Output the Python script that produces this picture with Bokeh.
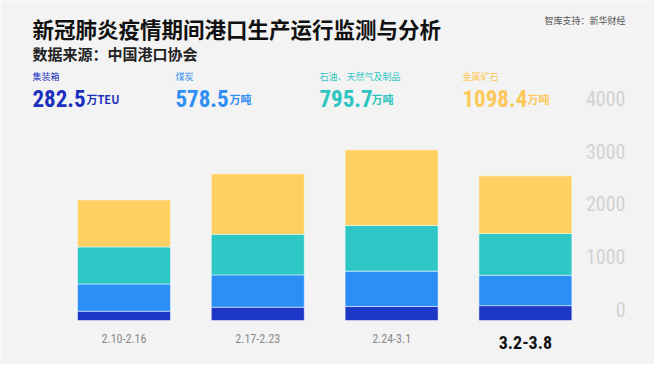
from bokeh.plotting import figure
from bokeh.models import Range1d, Label, LabelSet, ColumnDataSource
from bokeh.core.properties import value
from bokeh.embed import file_html
from bokeh.resources import INLINE

# ---- data ----
weeks = ["2.10-2.16", "2.17-2.23", "2.24-3.1", "3.2-3.8"]
container = [177, 253, 267, 282.5]   # 集装箱 万TEU
coal = [520, 616, 673, 578.5]        # 煤炭 万吨
oil = [705, 775, 870, 795.7]         # 石油、天然气及制品 万吨
ore = [895, 1149, 1440, 1098.4]      # 金属矿石 万吨
series_names = ["集装箱", "煤炭", "石油、天然气及制品", "金属矿石"]
series_values = ["282.5", "578.5", "795.7", "1098.4"]
series_units = ["万TEU", "万吨", "万吨", "万吨"]
y_ticks = [0, 1000, 2000, 3000, 4000]

colors = ["#1c36c6", "#2c8ff6", "#2dc7c6", "#fed062"]
text_colors = ["#1c30c0", "#2f8ff5", "#2ec4c2", "#fdc95a"]

W, H = 654, 364
BG = "#f3f3f3"
CJK = "Noto Sans CJK SC"
COND = "Roboto Condensed"

p = figure(width=W, height=H, output_backend="svg", toolbar_location=None,
           x_range=Range1d(-0.923, 3.965), y_range=Range1d(-838, 6095),
           min_border=0, min_border_left=0, min_border_right=0,
           min_border_top=0, min_border_bottom=0)
p.axis.visible = False
p.grid.visible = False
p.outline_line_color = None
p.background_fill_color = BG
p.border_fill_color = BG

src = ColumnDataSource(dict(x=list(range(len(weeks))), weeks=weeks,
                            container=container, coal=coal, oil=oil, ore=ore))
p.vbar_stack(["container", "coal", "oil", "ore"], x="x", width=0.695,
             source=src, color=colors, line_color="white", line_alpha=0.5,
             line_width=1)

# x category labels
xl_src = ColumnDataSource(dict(
    x=list(range(len(weeks))), text=weeks,
    ly=[26, 26, 26, 22],
    color=["#8a8a8a", "#8a8a8a", "#8a8a8a", "#111111"],
    size=["12px", "12px", "12px", "18px"],
    style=["normal", "normal", "normal", "bold"]))
p.add_layout(LabelSet(x="x", y="ly", y_units="screen", text="text",
                      source=xl_src, text_align="center",
                      text_baseline="middle", text_color="color",
                      text_font_size="size", text_font_style="style",
                      text_font=value(COND)))

# y tick labels on right
yl_src = ColumnDataSource(dict(y=y_ticks, text=[str(v) for v in y_ticks]))
p.add_layout(LabelSet(x=625, x_units="screen", y="y", text="text",
                      source=yl_src, text_align="right",
                      text_baseline="bottom", y_offset=4,
                      text_color="#d2d2d2", text_font_size="20px",
                      text_font=value(COND)))

# header texts
p.add_layout(Label(x=32, y=336, x_units="screen", y_units="screen",
                   text="新冠肺炎疫情期间港口生产运行监测与分析",
                   text_font=CJK, text_font_size="21.5px",
                   text_font_style="bold", text_color="#111111",
                   text_baseline="middle"))
p.add_layout(Label(x=32, y=311, x_units="screen", y_units="screen",
                   text="数据来源：中国港口协会",
                   text_font=CJK, text_font_size="15px",
                   text_font_style="bold", text_color="#222222",
                   text_baseline="middle"))
p.add_layout(Label(x=625, y=344, x_units="screen", y_units="screen",
                   text="智库支持：新华财经",
                   text_font=CJK, text_font_size="9px",
                   text_color="#555555", text_align="right",
                   text_baseline="middle"))

# legend groups
lx = [32, 175, 319, 462]
ux = [86, 229, 371, 527]
for i in range(4):
    p.add_layout(Label(x=lx[i], y=288, x_units="screen", y_units="screen",
                       text=series_names[i], text_font=CJK,
                       text_font_size="9px", text_color=text_colors[i],
                       text_baseline="middle"))
    p.add_layout(Label(x=lx[i], y=266, x_units="screen", y_units="screen",
                       text=series_values[i], text_font=COND,
                       text_font_size="23px", text_font_style="bold",
                       text_color=text_colors[i], text_baseline="alphabetic"))
    p.add_layout(Label(x=ux[i], y=266, x_units="screen", y_units="screen",
                       text=series_units[i], text_font=CJK,
                       text_font_size="11px", text_font_style="bold",
                       text_color=text_colors[i], text_baseline="alphabetic"))

open("out.html", "w").write(file_html(p, INLINE))
